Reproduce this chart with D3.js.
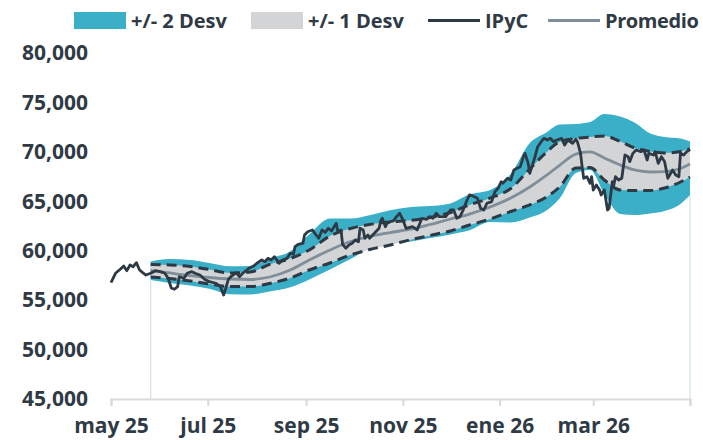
<!DOCTYPE html>
<html>
<head>
<meta charset="utf-8">
<script src="https://cdn.jsdelivr.net/npm/d3@7.9.0/dist/d3.min.js"></script>
<style>
  body { margin: 0; background: #fff; }
  svg text { font-family: "Open Sans", sans-serif; font-weight: 700; fill: #2f3a45; }
</style>
</head>
<body>
<svg id="chart" width="703" height="440"></svg>
<script>
// IPyC (daily-ish readings)
const ipcDates = [
  "2025-05-01","2025-05-04","2025-05-07","2025-05-09","2025-05-11","2025-05-13","2025-05-15","2025-05-17","2025-05-19","2025-05-21",
  "2025-05-23","2025-05-26","2025-05-29","2025-06-01","2025-06-04","2025-06-06","2025-06-08","2025-06-10","2025-06-12","2025-06-13",
  "2025-06-16","2025-06-18","2025-06-21","2025-06-23","2025-06-26","2025-06-29","2025-07-02","2025-07-06","2025-07-09","2025-07-11",
  "2025-07-12","2025-07-14","2025-07-16","2025-07-19","2025-07-21","2025-07-23","2025-07-27","2025-07-30","2025-08-01","2025-08-04",
  "2025-08-06","2025-08-08","2025-08-10","2025-08-12","2025-08-15","2025-08-17","2025-08-20","2025-08-22","2025-08-24","2025-08-25",
  "2025-08-27","2025-08-30","2025-08-31","2025-09-02","2025-09-05","2025-09-07","2025-09-09","2025-09-11","2025-09-13","2025-09-15",
  "2025-09-17","2025-09-20","2025-09-21","2025-09-23","2025-09-24","2025-09-26","2025-09-28","2025-09-30","2025-10-02","2025-10-04",
  "2025-10-05","2025-10-07","2025-10-08","2025-10-10","2025-10-11","2025-10-13","2025-10-17","2025-10-18","2025-10-19","2025-10-21",
  "2025-10-22","2025-10-24","2025-10-26","2025-10-28","2025-10-30","2025-11-01","2025-11-03","2025-11-07","2025-11-10","2025-11-13",
  "2025-11-16","2025-11-18","2025-11-20","2025-11-22","2025-11-24","2025-11-28","2025-12-01","2025-12-03","2025-12-05","2025-12-07",
  "2025-12-09","2025-12-11","2025-12-13","2025-12-15","2025-12-18","2025-12-20","2025-12-22","2025-12-24","2025-12-27","2025-12-29",
  "2025-12-31","2026-01-02","2026-01-03","2026-01-06","2026-01-08","2026-01-10","2026-01-12","2026-01-14","2026-01-16","2026-01-17",
  "2026-01-19","2026-01-20","2026-01-22","2026-01-23","2026-01-25","2026-01-28","2026-01-29","2026-01-31","2026-02-02","2026-02-04",
  "2026-02-06","2026-02-09","2026-02-11","2026-02-13","2026-02-16","2026-02-18","2026-02-19","2026-02-21","2026-02-22","2026-02-23",
  "2026-02-25","2026-02-27","2026-02-28","2026-03-01","2026-03-03","2026-03-05","2026-03-06","2026-03-08","2026-03-10","2026-03-11",
  "2026-03-13","2026-03-14","2026-03-15","2026-03-17","2026-03-19","2026-03-21","2026-03-23","2026-03-24","2026-03-26","2026-03-28",
  "2026-03-31","2026-04-02","2026-04-04","2026-04-05","2026-04-08","2026-04-09","2026-04-11","2026-04-13","2026-04-15","2026-04-17",
  "2026-04-20","2026-04-22","2026-04-24","2026-04-25","2026-04-27","2026-04-29","2026-05-01"
];
const ipcValues = [
  56770,57750,58150,58460,57980,58560,58380,58790,58050,57780,
  57540,57720,57980,57880,57720,57210,56230,56100,56360,57370,
  57210,57720,57880,57720,57540,57110,56870,56710,56360,55520,
  56030,57110,57440,57780,57370,57720,58220,58460,58730,59060,
  58890,59230,59060,59400,58730,59060,59230,59740,59640,60410,
  60650,60750,61590,61920,62100,61660,61260,62100,61860,62270,
  62000,62770,61920,62100,60650,60250,60580,60750,61090,60910,
  62270,62100,61260,61590,61260,61590,62270,63010,63280,62430,
  62770,62940,63010,63440,63790,63110,62270,62430,62100,63280,
  63180,63440,63280,63790,63440,63440,64120,64120,63280,63440,
  64120,64960,65640,65540,65300,64290,64120,64800,64960,65970,
  66310,66980,66820,67330,67150,68170,68340,68500,69510,69850,
  68840,67830,68840,69350,70520,71200,71370,71200,71370,71030,
  71200,71370,70690,71200,70870,71270,71030,69850,68500,67330,
  67490,66820,67490,66140,66650,66140,65640,66140,64120,64290,
  66980,66650,67490,67150,67330,69680,69510,69010,69850,70190,
  70020,70190,69180,69850,69680,70020,68840,69510,69010,67330,
  68170,67660,67490,69850,69680,70020,70240
];

// Promedio and bands (sampled roughly every two weeks)
const bandDates = [
  "2025-05-26","2025-06-07","2025-06-20","2025-07-02","2025-07-15","2025-07-28","2025-08-09","2025-08-22","2025-09-03","2025-09-16",
  "2025-09-29","2025-10-11","2025-10-24","2025-11-05","2025-11-18","2025-12-01","2025-12-13","2025-12-26","2026-01-08","2026-01-20",
  "2026-01-30","2026-02-08","2026-02-18","2026-02-27","2026-03-08","2026-03-18","2026-03-27","2026-04-06","2026-04-15","2026-04-25",
  "2026-05-01"
];
const promedio = [
  58000,57750,57490,57290,57140,57090,57340,58050,59060,60070,
  60930,61440,61840,62150,62650,63210,63710,64420,65330,66450,
  67560,68670,69780,69990,69380,68670,68170,67960,68010,68320,
  68770
];
const sup1 = [
  58610,58560,58400,58100,57750,57850,58610,59210,60070,61490,
  62250,62650,62910,63060,63360,63870,64630,65330,66290,68270,
  69890,71030,71350,71500,71600,71050,70390,70040,69890,70040,
  70290
];
const inf1 = [
  57340,57190,56940,56630,56380,56380,56690,57240,58050,58760,
  59570,60120,60580,61080,61540,62000,62600,63210,63970,64630,
  65380,66480,68370,68420,67150,66140,66090,66090,66350,66950,
  67460
];
const sup2 = [
  58910,59160,59060,58760,58420,58460,59200,59950,61650,63250,
  63250,63600,64100,64400,64520,64780,65700,66150,67760,70900,
  71910,72770,72820,73020,73830,73580,72970,71860,71500,71350,
  71050
];
const inf2 = [
  57040,56740,56470,56150,55590,55570,55880,56300,57100,58100,
  59150,60250,60680,60900,61280,61650,62080,62900,62850,63350,
  64020,65330,67860,68170,65740,63720,63610,63770,64020,64730,
  65640
];

const yTicks = [45000, 50000, 55000, 60000, 65000, 70000, 75000, 80000];
const xTicks = ["2025-05-01","2025-07-01","2025-09-01","2025-11-01","2026-01-01","2026-03-01","2026-05-01"];

const parse = d3.timeParse("%Y-%m-%d");
const es = d3.timeFormatLocale({
  dateTime: "%x, %X", date: "%d/%m/%Y", time: "%-I:%M:%S %p", periods: ["AM", "PM"],
  days: ["domingo","lunes","martes","miércoles","jueves","viernes","sábado"],
  shortDays: ["dom","lun","mar","mié","jue","vie","sáb"],
  months: ["enero","febrero","marzo","abril","mayo","junio","julio","agosto","septiembre","octubre","noviembre","diciembre"],
  shortMonths: ["ene","feb","mar","abr","may","jun","jul","ago","sep","oct","nov","dic"]
});
const fmtMonth = es.format("%b %y");

const ipc = ipcDates.map((d, i) => ({ date: parse(d), value: ipcValues[i] }));
const bands = bandDates.map((d, i) => ({
  date: parse(d), avg: promedio[i], s1: sup1[i], i1: inf1[i], s2: sup2[i], i2: inf2[i]
}));

const svg = d3.select('#chart');

const x = d3.scaleTime()
  .domain([parse("2025-05-01"), parse("2026-05-01")])
  .range([111, 690]);
const y = d3.scaleLinear()
  .domain([45000, 80000])
  .range([399, 53]);

const teal = '#3aafc7';
const grey = '#d3d4d6';
const dark = '#2d3944';
const avgColor = '#7f8e99';

// vertical edges of the band series
[bands[0], bands[bands.length - 1]].forEach((d) => {
  svg.append('line')
    .attr('x1', x(d.date)).attr('x2', x(d.date))
    .attr('y1', y(d.i2)).attr('y2', y(45000))
    .attr('stroke', '#d3e1e8')
    .attr('stroke-width', 1.2);
});

const curve = d3.curveMonotoneX;

svg.append('path')
  .datum(bands)
  .attr('fill', teal)
  .attr('d', d3.area().curve(curve).x((d) => x(d.date)).y0((d) => y(d.i2)).y1((d) => y(d.s2)));

svg.append('path')
  .datum(bands)
  .attr('fill', grey)
  .attr('d', d3.area().curve(curve).x((d) => x(d.date)).y0((d) => y(d.i1)).y1((d) => y(d.s1)));

svg.append('path')
  .datum(bands)
  .attr('fill', 'none')
  .attr('stroke', avgColor)
  .attr('stroke-width', 2.8)
  .attr('d', d3.line().curve(curve).x((d) => x(d.date)).y((d) => y(d.avg)));

['s1', 'i1'].forEach((key) => {
  svg.append('path')
    .datum(bands)
    .attr('fill', 'none')
    .attr('stroke', dark)
    .attr('stroke-width', 3)
    .attr('stroke-dasharray', '10,6')
    .attr('d', d3.line().curve(curve).x((d) => x(d.date)).y((d) => y(d[key])));
});

svg.append('path')
  .datum(ipc)
  .attr('fill', 'none')
  .attr('stroke', dark)
  .attr('stroke-width', 2.8)
  .attr('stroke-linejoin', 'round')
  .attr('d', d3.line().x((d) => x(d.date)).y((d) => y(d.value)));

// x axis
const xAxis = svg.append('g')
  .attr('transform', `translate(0,${y(45000)})`)
  .call(d3.axisBottom(x)
    .tickValues(xTicks.map(parse))
    .tickSizeOuter(0)
    .tickSize(7)
    .tickPadding(8)
    .tickFormat((d, i) => i === xTicks.length - 1 ? '' : fmtMonth(d)));
xAxis.select('.domain').attr('stroke', '#d9d9d9').attr('stroke-width', 2);
xAxis.selectAll('.tick line').attr('stroke', '#d9d9d9').attr('stroke-width', 2);
xAxis.selectAll('.tick text').attr('font-size', 21).attr('dy', '0.9em');

// y axis (labels only)
const yAxis = svg.append('g')
  .attr('transform', 'translate(88,0)')
  .call(d3.axisLeft(y).tickValues(yTicks).tickSize(0).tickPadding(0).tickFormat(d3.format(',')));
yAxis.select('.domain').remove();
yAxis.selectAll('.tick text').attr('font-size', 21);

// legend
const legend = svg.append('g').attr('class', 'legend');
const legendItems = [
  { label: '+/- 2 Desv', type: 'rect', color: teal, x: 74 },
  { label: '+/- 1 Desv', type: 'rect', color: grey, x: 251 },
  { label: 'IPyC', type: 'line', color: dark, x: 428 },
  { label: 'Promedio', type: 'line', color: avgColor, x: 548 }
];
legendItems.forEach((d) => {
  if (d.type === 'rect') {
    legend.append('rect')
      .attr('x', d.x).attr('y', 12).attr('width', 52).attr('height', 17)
      .attr('fill', d.color);
  } else {
    legend.append('line')
      .attr('x1', d.x).attr('x2', d.x + 52).attr('y1', 20.5).attr('y2', 20.5)
      .attr('stroke', d.color).attr('stroke-width', 2.8);
  }
  legend.append('text')
    .attr('x', d.x + 57).attr('y', 20.5).attr('dy', '0.35em')
    .attr('font-size', 20)
    .attr('letter-spacing', d.label === 'Promedio' ? -0.4 : 0)
    .text(d.label);
});
</script>
</body>
</html>
